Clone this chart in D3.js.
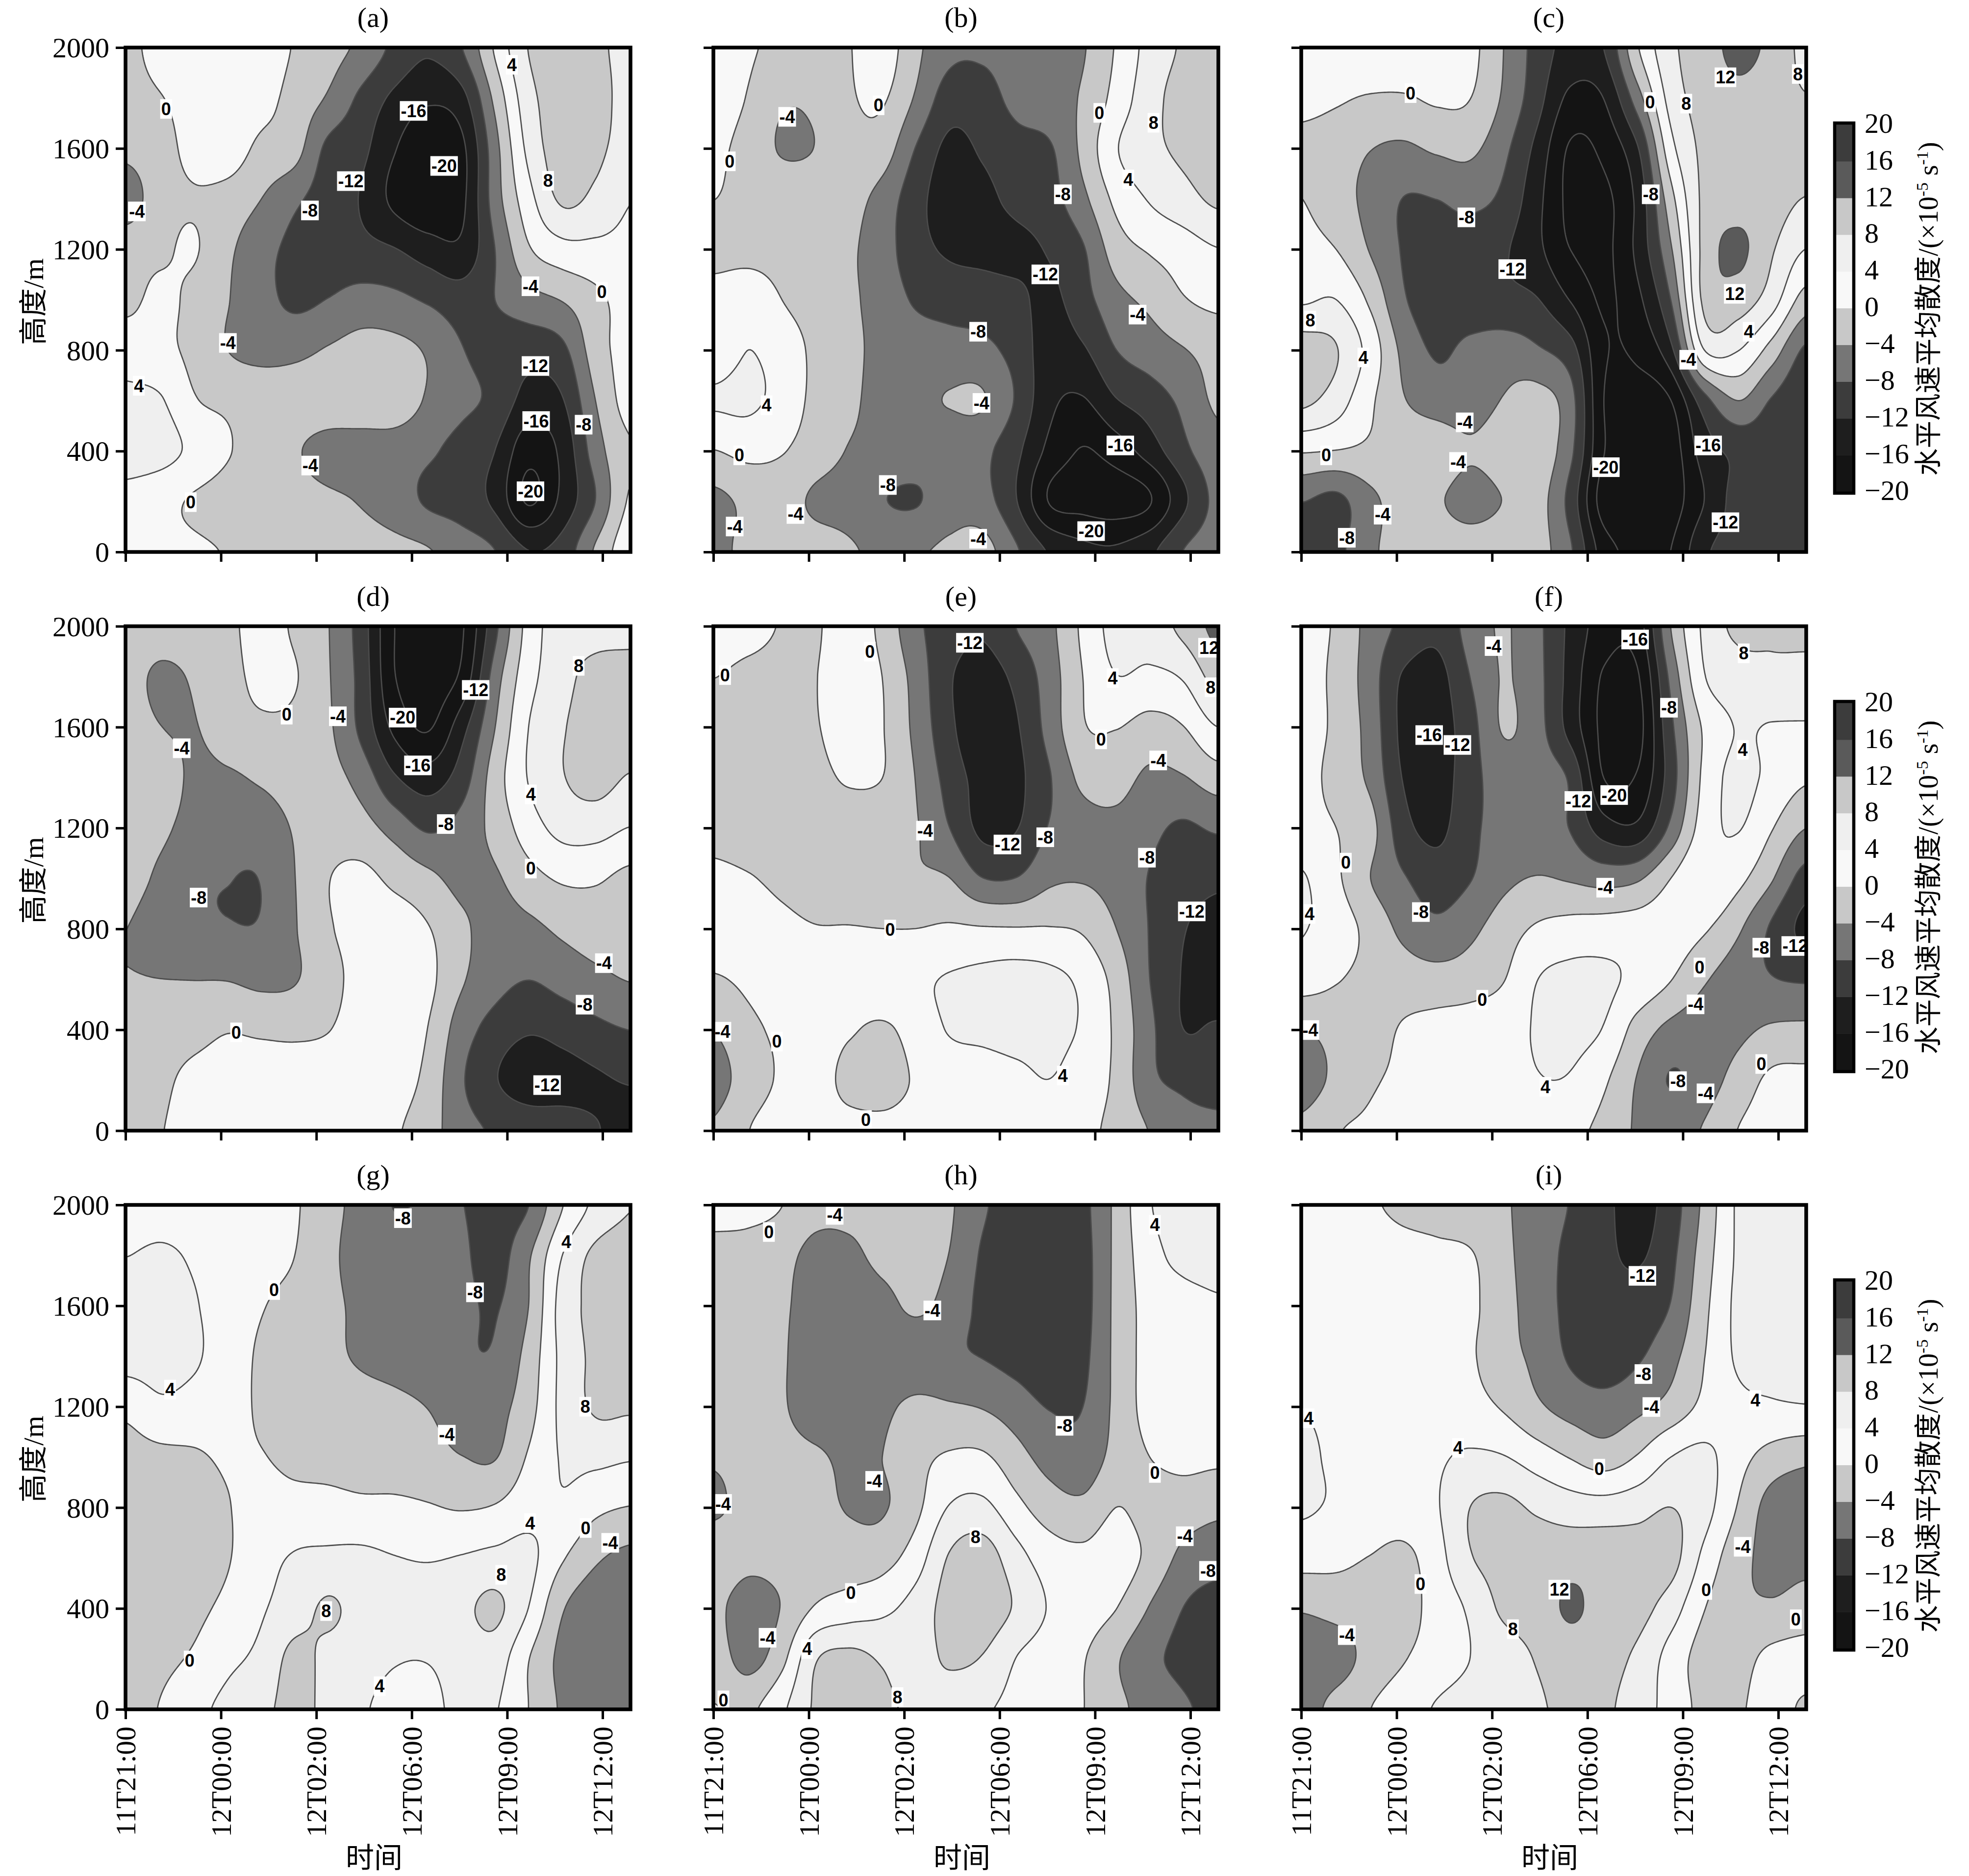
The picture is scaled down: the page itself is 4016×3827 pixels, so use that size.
<!DOCTYPE html>
<html><head><meta charset="utf-8">
<script src="https://cdn.jsdelivr.net/npm/d3@7/dist/d3.min.js"></script>
<style>html,body{margin:0;padding:0;background:#fff}svg{display:block}</style>
</head><body><div id="chart"></div>
<script>
// ---------- values (rows: 2000 m down to 0 m; 16 columns left to right) ----------
const gridA=[
[-1,1.5,2.5,3,2.5,-0.3,-2.5,-5,-9,-11.5,-8.2,0.5,8.1,10,9,6.5],
[-1.5,-0.2,1.5,2.5,1.5,-1.5,-4.5,-9,-13,-15.5,-13.5,-3,6.5,10,10,6],
[-3,-1.2,1,2,-1,-2.5,-9,-11,-15.8,-19,-17,-5.5,5,10,9,6],
[-6,-1.5,-0.3,-1.5,-4,-7.2,-10,-12.3,-17,-19.5,-17,-6,2.5,8.6,7,4.2],
[-1.5,-0.6,0.3,-3.2,-6.5,-9,-10,-10.8,-11.8,-14,-15,-8,-0.5,2.5,3,3],
[-0.8,0.8,-1,-3.8,-6.5,-8.8,-7.9,-6.5,-7,-8.5,-10,-8,-5.5,-3.8,-1,1.5],
[2,1,-1,-4,-5.2,-5,-3.7,-2.5,-2.8,-4.5,-7.8,-9.5,-10.5,-9,-2,1.5],
[5,4.3,0.3,-0.8,-1.5,-1.8,-1.5,-1,-1.5,-4.5,-7,-9,-13.5,-12.3,-4,1.5],
[6,5.5,3,0.3,-1.5,-3.5,-5.5,-6,-6,-7.3,-9.5,-12,-18.5,-15,-6,-0.5],
[2.5,1.2,-0.4,-1.5,-2,-2.5,-3.3,-4.3,-6,-8.6,-10,-13,-20.5,-15,-8,0.3],
[1.5,1,0.5,-0.2,-1,-1.5,-2,-2.5,-3,-3.8,-6,-8,-12,-10.5,-3.5,2.5]];
const gridB=[
[2.5,0.5,-1,-1.5,-0.2,2,-3,-7,-7.5,-6.5,-5.5,-4.3,0.4,5.5,8.5,10],
[2,-0.3,-3.5,-3.2,-0.5,0.4,-4.5,-10,-9.5,-7,-5.5,-3.5,1.5,6.5,9.5,10.5],
[0.8,-1.5,-4.3,-3.9,-1.5,-2,-8.2,-13,-11.5,-9.5,-8.5,-3,3.7,6.8,8.8,10],
[0,-1,-1.5,-1.8,-2.5,-5.5,-10.5,-14,-13,-11,-9.5,-5,1,4.3,6.5,8.7],
[-1.2,-1.2,-1.3,-1.5,-3.3,-6.2,-10.4,-12.6,-13,-13,-11.6,-8.4,-2,0.4,2,3.8],
[1.5,2.5,0,-1.5,-3.3,-5.5,-8.5,-9.5,-10,-11,-13,-9.5,-5.3,-3,-0.3,1],
[1.5,4,2,-0.8,-3,-5,-6,-6.5,-7,-9.5,-14,-12.5,-8,-6,-4.2,-2.5],
[4.5,4.8,2.5,-1,-3,-5.5,-5,-3.8,-3.7,-8.4,-15,-16.3,-12.2,-10,-7,-3.3],
[0,1.2,0.3,-2,-4.2,-5.5,-6,-6.5,-7,-11,-17,-20.2,-18,-14,-9,-5.5],
[-5,-3,-2.5,-4.6,-5.5,-7.8,-8.3,-6,-6.5,-11.8,-20.3,-21.5,-22,-20.3,-13,-7],
[-5.5,-2.5,-2,-2.5,-3.5,-5,-4.5,-3.3,-2.5,-7.5,-12.5,-15,-15.5,-13,-8,-6]];
const gridC=[
[2,2.5,3,3,2.5,1.2,-4,-9.5,-13.5,-12,-0.5,7,10,13,11,7],
[1,0.4,-0.4,-0.5,0.5,0,-4.6,-10.5,-17,-16,-6,5.5,9.5,11,10,8.3],
[-1,-2,-3.9,-4.7,-3.5,-3.2,-7,-13.2,-20.5,-19,-12.5,2.5,9,10.5,11,11],
[0,-2.5,-5,-8.1,-8,-7,-9,-14.8,-21,-21,-15,-1.5,9,10.5,10,7.8],
[1.5,0,-4.2,-8.3,-9.5,-10,-11.5,-15,-20,-21,-15,-4.5,9.3,12.8,8.5,4],
[3.5,4,-0.7,-7.5,-10,-10.5,-11,-11.8,-16.2,-20.5,-17,-8,9,10,6,-1.5],
[10,8.2,2.5,-5,-8.5,-7,-6,-7.5,-10.5,-19.5,-19,-13,4,4.2,-1.5,-8.5],
[9,6,0.8,-3.7,-6,-6,-3.8,-2.5,-6.5,-20,-22,-20,-9.5,-3.9,-8.2,-11],
[0.5,0,-0.7,-1.2,-1.5,-3.5,-2,-1.5,-7,-19.8,-22,-22,-14,-11,-10.5,-11],
[-7.8,-9,-5,-2.5,-3.5,-5.5,-3.9,-2.5,-9.5,-22,-23,-22,-16,-10.5,-10,-10],
[-10,-9,-4.8,-2.5,-2,-2,-2,-2.5,-7.5,-18,-21,-20,-12.8,-10.5,-10,-10]];
const gridD=[
[-1,-1.5,-1.5,-0.8,1.3,-0.5,-3.8,-10,-20,-22,-20.5,-9,1.5,6,6.5,7],
[-2,-5,-3.5,-1.5,1,0.3,-3.6,-9.5,-19.8,-22,-19,-6,2.5,6.5,9.5,9.5],
[-1.5,-3.9,-4.2,-2,-0.8,-1,-3.3,-9,-17,-20.3,-13.5,-4,4,7.6,10,10],
[-1.5,-2,-4.7,-4.6,-3.5,-2.5,-2.7,-5.5,-11.5,-14,-10,-2,4.2,7.7,9.5,7.7],
[-2,-3.2,-5.5,-6.5,-6,-3.7,-2,-2.5,-5.5,-8.5,-6.5,-2.7,2,5.2,5.5,3.9],
[-2.5,-4.8,-7.3,-7.9,-7.85,-4.1,-0.2,1,-1,-3,-5.2,-4.5,-1.5,0.5,0.5,-1],
[-4,-6,-7,-7.7,-7.6,-4.3,-0.5,1.5,2,0.2,-3.2,-5.5,-5,-3.2,-2,-2],
[-3.8,-4,-4.1,-4.2,-5,-4.3,-1.5,1.5,3,1,-3.5,-6.5,-7.9,-6.5,-5,-3.8],
[-2,-2,-1.5,-0.3,-0.8,-1,-0.2,2,3,-0.1,-6,-9.5,-11.5,-10.5,-9,-7.9],
[-3.8,-1,1,2,2.5,2.5,2.5,3,2,-1.2,-7.5,-11.7,-14.5,-13.5,-12.5,-11.7],
[-3,-0.2,1,2,2.5,2.8,2.8,2,0.5,-2.2,-6.5,-8.5,-9.5,-10.5,-11.8,-13]];
const gridE=[
[2,1.2,-0.2,-0.4,2,-1,-7,-10,-11.5,-8,-5,0.8,5.5,6,9,13],
[0,-1,-1,-0.1,1.8,0,-5.5,-11.5,-14,-11,-6,0,3.8,3,4.3,9.5],
[-1.5,-2,-1.5,-0.3,1.8,0.2,-5,-11,-15,-12.5,-6.5,-0.4,0.1,-1.5,-0.2,3.8],
[-2,-2.5,-2,-1.3,0.5,0,-4.1,-9.5,-13.5,-13,-8.3,-3,-2.5,-4.8,-4.3,-2],
[-1.5,-2.5,-3,-3,-2.5,-3,-3.7,-7.9,-13,-12.2,-7.7,-5.5,-5,-7,-8.6,-7.5],
[1,0.3,-1,-2,-2.5,-3,-3.5,-3.9,-7.9,-7.9,-4.8,-4.3,-5.5,-8.2,-10,-11],
[2,1.8,1,0.2,0.2,0,0,0.5,0.3,0.2,0.2,-0.5,-4,-8.2,-11.7,-14],
[-0.3,0.8,2,2.5,2.8,3,3.3,4.3,5,5.5,5,3,-1.5,-8,-12.3,-15],
[-3.7,-0.9,0.8,2,0.5,-0.5,1.5,4.3,5,5.5,5,3.5,-0.8,-7,-12,-11.5],
[-5.5,-2,0.5,1.5,-1,-1.3,0.3,1.5,2,3,4,2,-0.8,-7,-9,-10],
[-3.5,-0.1,1.5,1.5,1,0.7,1,1.5,2,2,1.5,0.8,-1,-4.2,-6.5,-7]];
const gridF=[
[1,-0.5,-5.5,-9,-11,-6.5,-3.7,-7,-13,-18,-18,-4,4.8,8.8,8.5,8.5],
[1.5,-1,-6,-12.5,-13.5,-8,-3.8,-6.8,-13.5,-20.5,-20.5,-7,3.7,6,7,7],
[2,-1,-5.5,-13,-14,-9.5,-3.7,-6.5,-13.5,-21,-21.5,-9,0.6,4.2,3.7,3.5],
[1.5,-1.5,-4.8,-12.2,-14,-9.5,-6,-6,-8.7,-20,-19.5,-10,1,5,3,0.6],
[1.5,0,-2.5,-10.5,-13,-9,-6.5,-6,-8.2,-14,-15,-7,2,4.2,0.3,-3.9],
[4.3,0.7,-3.9,-7.6,-10,-8.2,-5,-3.8,-4.4,-5.5,-4.6,0,3.7,1.2,-3.5,-9.5],
[4.2,2,-1.2,-5,-7,-5,-2,0.5,1.5,1.8,2,2,0.5,-3.3,-8.5,-13],
[2,0.3,-1,-2,-2.5,-2,-0.2,3.9,5,4.7,3,0.2,-3.5,-6,-7.8,-8.5],
[-4,-2.5,-1.5,0.3,1.2,1.8,2.5,4.3,5,3.8,-1.5,-5,-6,-5,-3.5,-3.2],
[-6,-3,-0.5,0.5,1,1.5,2,3.8,3.7,0.7,-4.2,-8.2,-6,-2.5,0.7,1],
[-3,-0.3,0.5,1,1.5,1.8,2,2,1,-1,-4.5,-5.5,-3.7,0,1.5,2]];
const gridG=[
[1.5,2,2,2,1.5,0.4,-2.5,-5.5,-8.1,-7.5,-7.9,-9.5,-8,-0.2,5,7.8],
[4,4.7,3.5,2,1,0,-2.8,-6,-6.5,-6.5,-7.3,-9.5,-4.5,4,9,10],
[5,5.3,4.3,2,0.2,-1,-2.8,-5,-6,-6.5,-7,-8.3,-4,5.5,9,10],
[5.5,5.5,4.5,2,-0.5,-1.5,-3,-4.5,-5.5,-6.5,-7.5,-7.5,-2.5,5,8.8,9.5],
[1,3.2,2.5,1.5,-0.5,-1.5,-2,-2.5,-3,-4.1,-6,-5.5,-1.5,5,8.5,8.5],
[-1.5,-1,-0.5,0.5,0.2,-1,-1.5,-2.2,-2,-2.5,-3.9,-4.2,0.4,4.3,5,4.4],
[-3,-2.5,-2,-0.2,1.5,1.5,1.5,1,0.8,0.3,-0.3,0.3,2.5,3.5,1,-0.1],
[-3.5,-3,-2.5,-0.3,2.5,4.3,4.8,4.8,4.1,3.7,4.2,5,5,0.5,-3.3,-5],
[-2.5,-2,-1,1,3.5,6,8.5,6.5,6,6,7,8.8,4,-3.5,-6.5,-7],
[-2,-1,0.5,3,5,9,7,5.5,4.3,4.2,5.5,6,0.2,-5,-7,-7.3],
[-1.5,0.2,2.8,5,7,9,7,4.5,3,3,5,4.3,0,-4.5,-6.5,-7]];
const gridH=[
[1.5,1,0,-2.5,-3,-2.5,-2.5,-3.5,-7.5,-9.5,-10,-9,-3,3.7,5.5,6],
[-1.5,-1.5,-2.5,-5.5,-5,-3,-2.5,-4.1,-8.5,-10.5,-11,-9.5,-3,2.5,5,5.5],
[-1.5,-2,-3.2,-6.5,-7,-5.5,-3.3,-5.5,-9,-11,-11,-9.5,-3,1.5,2.5,3.5],
[-1.5,-2,-3.5,-6.8,-7.5,-7.5,-7,-7.5,-8.1,-9.5,-11,-9,-3,1.5,2.5,3],
[-1.5,-2,-3.5,-6.5,-6.5,-5,-3,-3.5,-4.2,-6,-8.2,-8,-3,1.5,2.5,3],
[-3.5,-2.5,-2.5,-3.3,-4.9,-4,-1.3,0.5,0.6,-2.5,-5.5,-6.5,-2.5,0,1,0.8],
[-4.6,-2.5,-2,-2.5,-4.3,-4.4,-1,4.2,5,1.2,-2,-3,0,-1.5,-2,-3],
[-1.5,-2.8,-2.5,-2,-2,-1.5,2,8.3,10,5.5,2,1,2,-1,-5,-6.5],
[-3,-6,-3.8,0.3,1.8,3,5.5,9.5,10.5,7.5,3.7,2,0.1,-4.2,-8,-9.5],
[-2,-5.5,-1.2,7.5,9,7.5,6,8.7,7.8,4,2,0.3,-3.5,-7,-9,-10.5],
[0.1,-0.8,3.2,8.5,9.5,8.8,7,5.5,4.5,3,1.5,0.1,-3,-5.5,-7.5,-9]];
const gridI=[
[1.5,1.5,0.5,-0.8,-1.5,-2.5,-3.5,-6,-8.2,-11,-13.5,-10,-3,4.5,5.5,6],
[2,2,2,1.5,1,0.4,-3,-6,-9,-11,-12.5,-9,-2,4.5,5.5,5.5],
[2,2.2,2.5,2.5,2,0.8,-2.5,-6,-9,-10.5,-10,-7.8,-1,4.8,5.3,5.5],
[2,2.3,2.8,2.8,2.2,0.5,-2.5,-5,-8.5,-10,-8.5,-5.3,-0.1,4.5,5,4.5],
[3.8,3,3,3,2.5,1.5,-0.4,-3.3,-5.5,-6.5,-5,-2.5,1,3,3.5,3.8],
[4.8,3.3,3,3,3.5,4.6,4.2,2,-0.2,-2,0.3,4,5,1.5,-1.5,-3],
[4.5,3.5,3,2.5,3.7,8,9,7.3,6,5.7,6.5,8,5.5,-0.2,-5.5,-6.5],
[1.5,1,-0.1,-1,2.5,7.7,9.5,10,10.5,10.5,10,9.5,3,-2.5,-5,-5],
[-3.5,-2.5,-2,-1.5,1.5,4.7,8.8,10,12.5,10.5,9.5,6,0.2,-3,-3.5,-2.5],
[-7,-6,-2.5,-0.3,1.8,4,6,8.3,10,9.5,7.2,2.5,-1.5,-1.5,1,1.5],
[-6,-2.5,-0.1,2,4.3,5.5,6.5,7.5,9,8.7,6,2.5,-1,-0.5,1.5,-0.5]];

// contour labels as read: [text, column position, row position] in a 1510x1520 reading frame
const labelsA=[["0",145,201],["4",1186,67],["-16",890,207],["-20",982,374],["8",1295,419],["-12",701,420],["-8",578,509],["-4",57,512],["-4",1242,739],["0",1457,756],["-4",331,911],["-12",1257,981],["4",63,1041],["-16",1259,1148],["-8",1402,1159],["-4",579,1283],["-20",1242,1361],["0",219,1394]];
const labelsB=[["-4",245,225],["0",520,190],["0",1185,213],["8",1348,243],["0",72,360],["4",1272,415],["-8",1075,460],["-12",1022,703],["-4",1300,825],["-8",820,877],["4",183,1100],["-4",830,1093],["-16",1248,1222],["0",101,1252],["-8",548,1342],["-4",270,1430],["-4",87,1468],["-20",1160,1482],["-4",820,1505]];
const labelsC=[["0",352,153],["12",1300,105],["8",1518,95],["0",1073,180],["8",1182,185],["-8",1075,460],["-8",520,530],["-12",658,687],["12",1328,762],["8",50,843],["4",1370,877],["4",210,955],["-4",1188,962],["-4",515,1152],["-16",1248,1222],["0",98,1252],["-4",495,1272],["-20",940,1288],["-4",268,1432],["-12",1300,1455],["-8",160,1502]];
const labelsD=[["8",1387,135],["-12",1077,208],["0",508,283],["-4",662,288],["-20",857,292],["-4",192,385],["-16",903,437],["4",1243,525],["-8",987,615],["0",1243,750],["-8",243,838],["-4",1463,1037],["-8",1405,1163],["0",356,1247],["-12",1292,1407]];
const labelsE=[["-12",795,65],["12",1515,80],["0",494,92],["0",58,163],["4",1225,172],["8",1520,200],["0",1190,358],["-4",1362,422],["-4",660,635],["-8",1022,655],["-12",908,677],["-8",1328,717],["-12",1463,880],["0",555,935],["-4",50,1245],["0",214,1275],["4",1075,1378],["0",482,1513]];
const labelsF=[["-16",1028,55],["-4",602,75],["8",1355,97],["-8",1130,262],["-16",408,345],["-12",493,375],["4",1352,390],["-20",965,527],["-12",857,545],["0",157,732],["-4",938,808],["-8",383,882],["4",48,888],["-8",1408,990],["-12",1510,985],["0",1222,1050],["0",568,1148],["-4",1210,1162],["-4",50,1240],["0",1408,1343],["-8",1157,1395],["4",758,1412],["-4",1240,1432]];
const labelsG=[["-8",858,55],["4",1350,127],["0",470,273],["-8",1075,280],["4",157,575],["8",1407,627],["-4",990,712],["4",1241,980],["0",1408,995],["-4",1482,1040],["8",1154,1137],["8",627,1247],["0",216,1397],["4",788,1475]];
const labelsH=[["-4",388,45],["4",1352,75],["0",190,97],["-4",682,335],["-8",1080,685],["0",1352,828],["-4",507,852],["-4",52,922],["8",812,1023],["-4",1442,1020],["-8",1512,1125],["0",437,1192],["-4",186,1328],["4",305,1362],["8",577,1508],["0",53,1518]];
const labelsI=[["-12",1050,230],["-8",1053,528],["4",1390,607],["-4",1077,628],["4",45,662],["4",495,752],["0",920,815],["-4",1352,1052],["0",382,1165],["12",800,1182],["0",1242,1183],["0",1512,1272],["8",660,1302],["-4",160,1320]];

const panelNames=["(a)","(b)","(c)","(d)","(e)","(f)","(g)","(h)","(i)"];
const timeTicks=["11T21:00","12T00:00","12T02:00","12T06:00","12T09:00","12T12:00"];
const heightTicks=[0,400,800,1200,1600,2000];
const fillLevels=[-16,-12,-8,-4,0,4,8,12,16];
const fillColors=["#1e1e1e","#3c3c3c","#767676","#c8c8c8","#f8f8f8","#efefef","#c8c8c8","#5a5a5a","#3c3c3c"];
const baseColor="#141414";
const lineLevels=[-20,-16,-12,-8,-4,0,4,8,12];
const barTicks=[-20,-16,-12,-8,-4,0,4,8,12,16,20];
const barColors=["#141414","#1e1e1e","#3c3c3c","#767676","#c8c8c8","#f8f8f8","#efefef","#c8c8c8","#5a5a5a","#3c3c3c"];

// ---------- layout ----------
const W=4016,H=3827,SERIF="'Liberation Serif','Noto Sans CJK SC',serif",CJK="'Liberation Serif','Noto Sans CJK SC',serif";
const FS=58;
const colX=[256,1455,2654],rowY=[97,1277.5,2458],PW=1030,PH=1029;
const timeMax=5.293;

const svg=d3.select("#chart").append("svg").attr("width",W).attr("height",H).attr("viewBox",`0 0 ${W} ${H}`);
svg.append("rect").attr("width",W).attr("height",H).attr("fill","#fff");

// display resampling of a read grid so the contour lines come out smooth
function resample(grid,K){
  const R=grid.length,C=grid[0].length,nx=(C-1)*K+1,ny=(R-1)*K+1,out=new Float64Array(nx*ny);
  const cr=(a,b,c,d,t)=>0.5*((2*b)+(-a+c)*t+(2*a-5*b+4*c-d)*t*t+(-a+3*b-3*c+d)*t*t*t);
  const g=(r,c)=>grid[Math.max(0,Math.min(R-1,r))][Math.max(0,Math.min(C-1,c))];
  for(let j=0;j<ny;j++){const fy=j/K,r=Math.min(R-2,Math.floor(fy)),ty=fy-r;
    for(let i=0;i<nx;i++){const fx=i/K,c=Math.min(C-2,Math.floor(fx)),tx=fx-c;
      const v=[-1,0,1,2].map(dr=>cr(g(r+dr,c-1),g(r+dr,c),g(r+dr,c+1),g(r+dr,c+2),tx));
      out[j*nx+i]=cr(v[0],v[1],v[2],v[3],ty);
    }}
  return {values:out,nx,ny};
}

function drawPanel(idx,grid,labels){
  const col=idx%3,row=Math.floor(idx/3),x0=colX[col],y0=rowY[row],x1=x0+PW,y1=y0+PH;
  const g=svg.append("g");
  const xScale=d3.scaleLinear().domain([0,timeMax]).range([x0,x1]);
  const yScale=d3.scaleLinear().domain([0,2000]).range([y1,y0]);
  const clipId="clip"+idx;
  svg.append("clipPath").attr("id",clipId).append("rect").attr("x",x0).attr("y",y0).attr("width",PW).attr("height",PH);
  const plot=g.append("g").attr("clip-path",`url(#${clipId})`);
  plot.append("rect").attr("x",x0).attr("y",y0).attr("width",PW).attr("height",PH).attr("fill",baseColor);

  const K=20,{values,nx,ny}=resample(grid,K);
  const cx=d3.scaleLinear().domain([0.5,nx-0.5]).range([x0+3.5,x1-3.5]);
  const cy=d3.scaleLinear().domain([0.5,ny-0.5]).range([y0+3.5,y1-3.5]);
  const path=d3.geoPath(d3.geoTransform({point(a,b){this.stream.point(cx(a),cy(b));}}));
  const gen=d3.contours().size([nx,ny]);
  fillLevels.forEach((lv,i)=>{
    plot.append("path").attr("d",path(gen.contour(values,lv))).attr("fill",fillColors[i]).attr("stroke","none");
  });
  lineLevels.forEach(lv=>{
    plot.append("path").attr("d",path(gen.contour(values,lv))).attr("fill","none")
      .attr("stroke","#4c4c4c").attr("stroke-width",2.6).attr("stroke-linejoin","round");
  });

  // contour labels
  const lx=d3.scaleLinear().domain([28,1538]).range([x0+3.5,x1-3.5]);
  const ly=d3.scaleLinear().domain([20,1540]).range([y0+3.5,y1-3.5]);
  const lab=plot.append("g").selectAll("g").data(labels).join("g")
    .attr("transform",d=>`translate(${lx(d[1])},${ly(d[2])})`);
  const labRect=lab.append("rect").attr("y",-20).attr("height",40).attr("fill","#fff");
  lab.append("text").text(d=>d[0]).attr("text-anchor","middle").attr("dy","0.35em")
    .attr("font-family","'Liberation Sans',Arial,sans-serif").attr("font-weight","bold")
    .attr("font-size",36).attr("fill","#000")
    .each(function(d,i){
      const w=this.getComputedTextLength()+4;
      d3.select(labRect.nodes()[i]).attr("x",-w/2).attr("width",w);
    });

  // spines
  g.append("rect").attr("x",x0).attr("y",y0).attr("width",PW).attr("height",PH)
    .attr("fill","none").attr("stroke","#000").attr("stroke-width",7.5);

  // axes
  const isBottom=row===2,isLeft=col===0;
  const ax=g.append("g").attr("transform",`translate(0,${y1+3})`)
    .call(d3.axisBottom(xScale).tickValues(d3.range(timeTicks.length)).tickSize(17).tickPadding(20)
      .tickFormat(i=>isBottom?timeTicks[i]:""));
  const ay=g.append("g").attr("transform",`translate(${x0-3},0)`)
    .call(d3.axisLeft(yScale).tickValues(heightTicks).tickSize(17).tickPadding(13)
      .tickFormat(v=>isLeft?String(v):""));
  [ax,ay].forEach(a=>{
    a.select(".domain").remove();
    a.selectAll("line").attr("stroke","#000").attr("stroke-width",5);
    a.selectAll("text").attr("font-family",SERIF).attr("font-size",FS).attr("fill","#000");
  });
  ay.selectAll("text").attr("dy","0.34em");
  if(isBottom){
    ax.selectAll("text").attr("text-anchor","end").attr("dy","0.34em").attr("y",0).attr("x",0)
      .attr("transform","translate(0,32) rotate(-90)");
    g.append("text").text("时间").attr("x",(x0+x1)/2-8).attr("y",y1+323).attr("text-anchor","middle")
      .attr("font-family",CJK).attr("font-size",FS).attr("fill","#000");
  }
  if(isLeft){
    g.append("text").text("高度/m").attr("text-anchor","middle")
      .attr("transform",`translate(${x0-168},${(y0+y1)/2+4}) rotate(-90)`)
      .attr("font-family",CJK).attr("font-size",FS).attr("fill","#000");
  }
  g.append("text").text(panelNames[idx]).attr("x",(x0+x1)/2-10).attr("y",y0-42).attr("text-anchor","middle")
    .attr("font-family",SERIF).attr("font-size",FS).attr("fill","#000");
}

[[gridA,labelsA],[gridB,labelsB],[gridC,labelsC],[gridD,labelsD],[gridE,labelsE],[gridF,labelsF],[gridG,labelsG],[gridH,labelsH],[gridI,labelsI]]
  .forEach((p,i)=>drawPanel(i,p[0],p[1]));

// colour bars
[0,1,2].forEach(r=>{
  const top=254+r*1180,bot=1003+r*1180,x=3745,w=33;
  const s=d3.scaleLinear().domain([-20,20]).range([bot,top]);
  const g=svg.append("g");
  g.selectAll("rect.c").data(barColors).join("rect").attr("class","c")
    .attr("x",x).attr("width",w).attr("y",(d,i)=>s(barTicks[i+1])).attr("height",(d,i)=>s(barTicks[i])-s(barTicks[i+1])+0.5).attr("fill",d=>d);
  g.append("rect").attr("x",x-3).attr("y",top-3).attr("width",w+6).attr("height",bot-top+6)
    .attr("fill","none").attr("stroke","#000").attr("stroke-width",6.5);
  g.selectAll("text.t").data(barTicks).join("text").attr("class","t")
    .text(d=>String(d).replace("-","\u2212"))
    .attr("x",3803).attr("y",d=>s(d)-3).attr("dy","0.34em")
    .attr("font-family",SERIF).attr("font-size",FS).attr("fill","#000");
  const t=g.append("text").attr("text-anchor","middle")
    .attr("transform",`translate(3952,${630+r*1180}) rotate(-90)`)
    .attr("font-family",CJK).attr("font-size",56).attr("fill","#000");
  t.append("tspan").text("水平风速平均散度/(×10");
  t.append("tspan").text("-5").attr("font-size",34).attr("dy",-20);
  t.append("tspan").text(" s").attr("dy",20);
  t.append("tspan").text("-1").attr("font-size",34).attr("dy",-20);
  t.append("tspan").text(")").attr("dy",20);
});
</script></body></html>
